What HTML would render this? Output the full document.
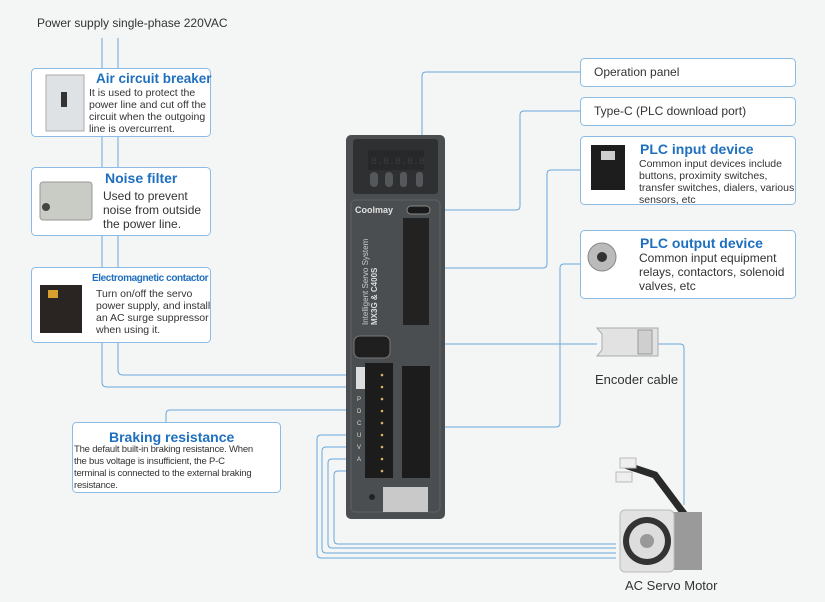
<!DOCTYPE html>
<html><head><meta charset="utf-8"><style>
body{margin:0;background:#f4f6f6;}
#c{position:relative;width:825px;height:602px;overflow:hidden;background:#f4f6f6;font-family:"Liberation Sans",sans-serif;color:#333;}
.t{position:absolute;white-space:nowrap;}
.h{color:#1f6fbf;font-weight:bold;}
</style></head><body><div id="c">
<svg width="825" height="602" style="position:absolute;left:0;top:0">
<g fill="none" stroke="#6aa8dc" stroke-width="1">
<path d="M102 38V382Q102 387 107 387H382"/>
<path d="M118 38V370Q118 375 123 375H382"/>
<path d="M166 422V414Q166 410 170 410H382"/>
<path d="M580 72H426Q422 72 422 76V146"/>
<path d="M580 111H524Q520 111 520 115V206Q520 210 516 210H420"/>
<path d="M580 170H551Q547 170 547 174V264Q547 268 543 268H418"/>
<path d="M580 264H564Q560 264 560 268V423Q560 427 556 427H418"/>
<path d="M597 344H374"/>
<path d="M658 344H680Q684 344 684 348V505"/>
<path d="M382 435H321Q317 435 317 439V554Q317 558 321 558H616"/>
<path d="M382 447H326Q322 447 322 451V549Q322 553 326 553H616"/>
<path d="M382 459H332Q328 459 328 463V544Q328 548 332 548H616"/>
<path d="M382 471H338Q334 471 334 475V540Q334 544 338 544H616"/>
</g>
<g fill="#fff" stroke="#8dbbe6" stroke-width="1">
<rect x="31.5" y="68.5" width="179" height="68" rx="4"/>
<rect x="31.5" y="167.5" width="179" height="68" rx="4"/>
<rect x="31.5" y="267.5" width="179" height="75" rx="4"/>
<rect x="72.5" y="422.5" width="208" height="70" rx="4"/>
<rect x="580.5" y="58.5" width="215" height="28" rx="4"/>
<rect x="580.5" y="97.5" width="215" height="28" rx="4"/>
<rect x="580.5" y="136.5" width="215" height="68" rx="4"/>
<rect x="580.5" y="230.5" width="215" height="68" rx="4"/>
</g>
<!-- device -->
<rect x="346" y="135" width="99" height="384" rx="5" fill="#4b4e50"/>
<rect x="353" y="139" width="85" height="55" rx="3" fill="#2e3032"/>
<rect x="368" y="150" width="56" height="20" fill="#272829"/>
<text x="371" y="164" font-size="10" fill="#3c3c3c" font-family="Liberation Mono">8.8.8.8.8</text>
<g fill="#55585a"><rect x="370" y="172" width="8" height="15" rx="4"/><rect x="385" y="172" width="8" height="15" rx="4"/><rect x="400" y="172" width="7" height="15" rx="3"/><rect x="416" y="172" width="7" height="15" rx="3"/></g>
<rect x="351" y="200" width="89" height="312" rx="4" fill="none" stroke="#5d6163"/>
<text x="355" y="213" font-size="9" font-weight="bold" fill="#e0e0e0">Coolmay</text>
<rect x="407" y="206" width="23" height="8" rx="4" fill="#1a1a1a" stroke="#888"/>
<rect x="403" y="218" width="26" height="107" fill="#222"/>
<text x="0" y="0" font-size="8" fill="#ccc" transform="translate(368,325) rotate(-90)">Intelligent Servo System</text>
<text x="0" y="0" font-size="8" font-weight="bold" fill="#ddd" transform="translate(377,325) rotate(-90)">MX3G &amp; C400S</text>
<rect x="354" y="336" width="36" height="22" rx="6" fill="#1f1f1f" stroke="#777"/>
<rect x="356" y="367" width="9" height="22" fill="#ddd"/>
<rect x="365" y="363" width="28" height="115" fill="#1c1c1c"/>
<rect x="402" y="366" width="28" height="112" fill="#1c1c1c"/>
<g fill="#d8b060"><circle cx="382" cy="375" r="1.3"/><circle cx="382" cy="387" r="1.3"/><circle cx="382" cy="399" r="1.3"/><circle cx="382" cy="411" r="1.3"/><circle cx="382" cy="423" r="1.3"/><circle cx="382" cy="435" r="1.3"/><circle cx="382" cy="447" r="1.3"/><circle cx="382" cy="459" r="1.3"/><circle cx="382" cy="471" r="1.3"/></g>
<g font-size="6" fill="#ddd"><text x="357" y="401">P</text><text x="357" y="413">D</text><text x="357" y="425">C</text><text x="357" y="437">U</text><text x="357" y="449">V</text><text x="357" y="461">A</text></g>
<rect x="383" y="487" width="45" height="25" fill="#c9c9c9"/>
<circle cx="372" cy="497" r="3" fill="#222"/>
<!-- product images -->
<rect x="46" y="75" width="38" height="56" fill="#dfe2e4" stroke="#aaa"/><rect x="61" y="92" width="6" height="15" fill="#333"/>
<rect x="40" y="182" width="52" height="38" rx="3" fill="#c9ccc4" stroke="#999"/><circle cx="46" cy="207" r="4" fill="#444"/>
<rect x="40" y="285" width="42" height="48" fill="#2a2522"/><rect x="48" y="290" width="10" height="8" fill="#d8a030"/>
<rect x="591" y="145" width="34" height="45" fill="#1d1d1d"/><rect x="601" y="151" width="14" height="9" fill="#ccc"/>
<circle cx="602" cy="257" r="14" fill="#bbb" stroke="#888"/><circle cx="602" cy="257" r="5" fill="#333"/>
<path d="M597 328h61v28h-61l5-6v-16z" fill="#e2e2e2" stroke="#aaa"/><rect x="638" y="330" width="14" height="24" fill="#cfcfcf" stroke="#999"/>
<path d="M625 465l30 10 30 40 12 10" stroke="#2a2a2a" stroke-width="7" fill="none"/>
<rect x="620" y="458" width="16" height="10" fill="#eee" stroke="#bbb"/><rect x="616" y="472" width="16" height="10" fill="#eee" stroke="#bbb"/>
<rect x="660" y="512" width="42" height="58" fill="#9a9a9a"/>
<rect x="620" y="510" width="54" height="62" rx="5" fill="#e2e2e2" stroke="#bbb"/>
<circle cx="647" cy="541" r="24" fill="#333"/><circle cx="647" cy="541" r="18" fill="#ddd"/><circle cx="647" cy="541" r="7" fill="#999"/>
</svg>
<div class="t" style="left:37px;top:16px;font-size:12px;">Power supply single-phase 220VAC</div>
<div class="t h" style="left:96px;top:71px;font-size:13.5px;">Air circuit breaker</div>
<div class="t" style="left:89px;top:87px;font-size:10.5px;line-height:12px;">It is used to protect the<br>power line and cut off the<br>circuit when the outgoing<br>line is overcurrent.</div>
<div class="t h" style="left:105px;top:170px;font-size:14px;">Noise filter</div>
<div class="t" style="left:103px;top:189px;font-size:12px;line-height:14px;">Used to prevent<br>noise from outside<br>the power line.</div>
<div class="t h" style="left:92px;top:273px;font-size:10px;letter-spacing:-0.4px;">Electromagnetic contactor</div>
<div class="t" style="left:96px;top:288px;font-size:10.5px;line-height:12px;">Turn on/off the servo<br>power supply, and install<br>an AC surge suppressor<br>when using it.</div>
<div class="t h" style="left:109px;top:429px;font-size:14px;">Braking resistance</div>
<div class="t" style="left:74px;top:444px;font-size:9.5px;line-height:12px;letter-spacing:-0.2px;">The default built-in braking resistance. When<br>the bus voltage is insufficient, the P-C<br>terminal is connected to the external braking<br>resistance.</div>
<div class="t" style="left:594px;top:65px;font-size:12px;">Operation panel</div>
<div class="t" style="left:594px;top:104px;font-size:12px;">Type-C (PLC download port)</div>
<div class="t h" style="left:640px;top:141px;font-size:14px;">PLC input device</div>
<div class="t" style="left:639px;top:158px;font-size:10.5px;line-height:12px;">Common input devices include<br>buttons, proximity switches,<br>transfer switches, dialers, various<br>sensors, etc</div>
<div class="t h" style="left:640px;top:235px;font-size:14px;">PLC output device</div>
<div class="t" style="left:639px;top:251px;font-size:12px;line-height:14px;">Common input equipment<br>relays, contactors, solenoid<br>valves, etc</div>
<div class="t" style="left:595px;top:372px;font-size:13px;">Encoder cable</div>
<div class="t" style="left:625px;top:578px;font-size:13px;">AC Servo Motor</div>
</div></body></html>
